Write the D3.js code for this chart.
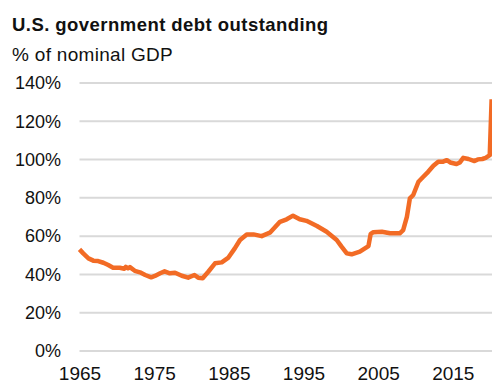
<!DOCTYPE html>
<html>
<head>
<meta charset="utf-8">
<script src="https://cdn.jsdelivr.net/npm/d3@7"></script>
<style>
  html, body { margin: 0; padding: 0; background: #fff; }
  svg { display: block; }
  text { font-family: "Liberation Sans", Arial, Helvetica, sans-serif; fill: #111; }
</style>
</head>
<body>
<svg id="chart" width="492" height="386"></svg>
<script>
// Federal debt outstanding as % of nominal GDP (decimal year, percent)
const years = [
  1965.0, 1965.5, 1966.2, 1966.85, 1967.5, 1968.2, 1968.85, 1969.5, 1970.4, 1971.0,
  1971.2, 1971.5, 1971.75, 1972.4, 1973.1, 1973.8, 1974.6, 1975.1, 1975.8, 1976.4,
  1977.1, 1977.8, 1978.7, 1979.55, 1980.4, 1980.9, 1981.5, 1982.25, 1983.15, 1984.05,
  1984.9, 1985.8, 1986.5, 1987.4, 1988.3, 1989.4, 1990.5, 1991.85, 1992.75, 1993.6,
  1994.5, 1995.4, 1996.8, 1998.1, 1999.45, 2000.1, 2000.8, 2001.45, 2002.55, 2003.7,
  2004.0, 2004.35, 2005.5, 2006.6, 2007.9, 2008.35, 2008.85, 2009.25, 2009.7, 2010.4,
  2011.05, 2011.7, 2012.4, 2013.05, 2013.7, 2014.2, 2014.65, 2015.5, 2015.95, 2016.4,
  2017.1, 2017.9, 2018.35, 2018.95, 2019.4, 2019.95, 2020.2
];
const debtPct = [
  53.1, 51.0, 48.4, 47.2, 47.0, 46.1, 44.9, 43.5, 43.5, 43.0,
  44.0, 43.2, 43.8, 41.9, 41.1, 39.7, 38.5, 39.2, 40.6, 41.6,
  40.6, 40.9, 39.3, 38.3, 39.7, 38.3, 38.0, 41.4, 45.8, 46.3,
  48.6, 53.6, 58.0, 60.9, 60.9, 60.0, 61.8, 67.5, 68.8, 70.7,
  68.8, 68.0, 65.3, 62.3, 58.0, 54.5, 51.0, 50.5, 51.9, 54.8,
  61.2, 62.0, 62.3, 61.5, 61.5, 63.2, 70.1, 79.7, 81.5, 88.4,
  91.0, 93.6, 96.8, 98.9, 98.9, 99.7, 98.5, 97.7, 98.5, 100.9,
  100.3, 99.2, 100.1, 100.3, 100.9, 102.3, 131.5
];
const yTicks = [0, 20, 40, 60, 80, 100, 120, 140];
const xTicks = [1965, 1975, 1985, 1995, 2005, 2015];

const titleText = "U.S. government debt outstanding";
const subtitleText = "% of nominal GDP";

const svg = d3.select("#chart");

const x = d3.scaleLinear().domain([1965, 2020.25]).range([79.5, 492]);
const y = d3.scaleLinear().domain([0, 140]).range([351, 83]);

// Title block
svg.append("text")
  .attr("x", 12).attr("y", 31)
  .style("font-size", "18.5px").style("font-weight", "bold")
  .style("letter-spacing", "0.45px")
  .text(titleText);
svg.append("text")
  .attr("x", 12).attr("y", 61)
  .style("font-size", "19px")
  .style("letter-spacing", "0.3px")
  .text(subtitleText);

// Horizontal gridlines
svg.append("g")
  .selectAll("line")
  .data(yTicks)
  .join("line")
  .attr("x1", x.range()[0]).attr("x2", 492)
  .attr("y1", d => y(d)).attr("y2", d => y(d))
  .attr("stroke", "#d9d9d9")
  .attr("stroke-width", 2);

// Y axis labels
const yAxis = d3.axisLeft(y).tickValues(yTicks).tickSize(0).tickPadding(0)
  .tickFormat(d => d + "%");
svg.append("g")
  .attr("transform", "translate(61,0)")
  .call(yAxis)
  .call(g => g.select(".domain").remove())
  .call(g => g.selectAll("text")
    .style("font-size", "18px")
    .style("font-family", "'Liberation Sans', Arial, sans-serif")
    .attr("fill", "#111"));

// X axis labels
const xAxis = d3.axisBottom(x).tickValues(xTicks).tickSize(0).tickPadding(0)
  .tickFormat(d3.format("d"));
svg.append("g")
  .attr("transform", "translate(0,366)")
  .call(xAxis)
  .call(g => g.select(".domain").remove())
  .call(g => g.selectAll("text")
    .attr("dy", "0.71em")
    .style("font-size", "19px")
    .style("font-family", "'Liberation Sans', Arial, sans-serif")
    .attr("fill", "#111"));

// Debt line
const line = d3.line()
  .x((d, i) => x(years[i]))
  .y(d => y(d));
svg.append("path")
  .datum(debtPct)
  .attr("d", line)
  .attr("fill", "none")
  .attr("stroke", "#f26b25")
  .attr("stroke-width", 4.5)
  .attr("stroke-linejoin", "round")
  .attr("stroke-linecap", "butt");
</script>
</body>
</html>
